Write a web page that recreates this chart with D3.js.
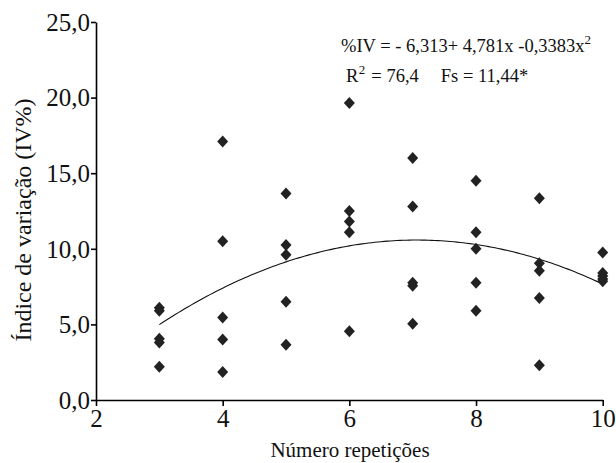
<!DOCTYPE html>
<html><head><meta charset="utf-8">
<script src="https://cdn.jsdelivr.net/npm/d3@7"></script>
<style>body{margin:0;background:#fff}svg{display:block}
svg text{font-family:"Liberation Serif","Times New Roman","DejaVu Serif",serif !important;}</style>
</head><body>
<svg id="chart" width="616" height="463"></svg>
<script>
// ---- data ----
const repetitions = [3,3,3,3,3, 4,4,4,4,4, 5,5,5,5,5, 6,6,6,6,6, 7,7,7,7,7, 8,8,8,8,8, 9,9,9,9,9, 10,10,10,10,10];
const ivValues = [6.1,5.9,4.05,3.8,2.2, 17.1,10.5,5.45,4.0,1.85, 13.65,10.25,9.6,6.5,3.65, 19.65,12.5,11.8,11.1,4.55, 16.0,12.8,7.75,7.55,5.05, 14.5,11.1,10.0,7.75,5.9, 13.35,9.05,8.55,6.75,2.3, 9.75,8.4,8.2,8.0,7.85];
const coefficients = [-6.313, 4.781, -0.3383];
const xTicks = [2,4,6,8,10];
const yTicks = [0,5,10,15,20,25];
const xTitle = "Número repetições";
const yTitle = "Índice de variação (IV%)";

const svg = d3.select("#chart");
const x = d3.scaleLinear().domain([2,10]).range([96,602.7]);
const y = d3.scaleLinear().domain([0,25]).range([400,22]);
const font = "Liberation Serif, Times New Roman, DejaVu Serif, serif";

// axes
const yAxis = d3.axisLeft(y).tickValues(yTicks).tickSize(5).tickSizeOuter(0)
  .tickFormat(d => d3.format(".1f")(d).replace(".", ","));
const gy = svg.append("g").attr("transform", "translate(96,0)").call(yAxis);
const xAxis = d3.axisBottom(x).tickValues(xTicks).tickSize(6).tickSizeOuter(0);
const gx = svg.append("g").attr("transform", "translate(0,400)").call(xAxis);
[gx, gy].forEach(g => {
  g.attr("font-family", font).attr("font-size", 25);
  g.select(".domain").attr("stroke", "#000").attr("stroke-width", 1.6);
  g.selectAll(".tick line").attr("stroke", "#000").attr("stroke-width", 1.6);
  g.selectAll(".tick text").attr("fill", "#111");
});
gy.selectAll(".tick text").attr("x", -6).attr("dy", "0.33em");
gx.selectAll(".tick text").attr("y", 8).attr("dy", "0.75em");

// titles
svg.append("text").attr("x", 350).attr("y", 457).attr("text-anchor", "middle")
  .attr("font-family", font).attr("font-size", 21).attr("fill", "#111").text(xTitle);
svg.append("text").attr("transform", "translate(31,220) rotate(-90)").attr("text-anchor", "middle")
  .attr("font-family", font).attr("font-size", 24).attr("fill", "#111").text(yTitle);

// fitted curve
const curveX = d3.range(3, 10.0001, 0.05);
const f = v => coefficients[0] + coefficients[1]*v + coefficients[2]*v*v;
svg.append("path").datum(curveX)
  .attr("d", d3.line().x(d => x(d)).y(d => y(f(d))))
  .attr("fill", "none").attr("stroke", "#111").attr("stroke-width", 1.1);

// points (diamonds)
const diamond = "M0,-6L5.5,0L0,6L-5.5,0Z";
svg.append("g").selectAll("path").data(repetitions.map((r,i) => [r, ivValues[i]]))
  .join("path").attr("d", diamond)
  .attr("transform", d => `translate(${x(d[0])},${y(d[1])})`)
  .attr("fill", "#222");

// equation
const eq = svg.append("text").attr("x", 341).attr("y", 52)
  .attr("font-family", font).attr("font-size", 18.5).attr("fill", "#111");
eq.append("tspan").text("%IV = - 6,313+ 4,781x -0,3383x");
eq.append("tspan").attr("dy", -8).attr("font-size", 13).text("2");
const r2 = svg.append("text").attr("x", 346).attr("y", 82)
  .attr("font-family", font).attr("font-size", 18.5).attr("fill", "#111");
r2.append("tspan").text("R");
r2.append("tspan").attr("dy", -8).attr("dx", 0.5).attr("font-size", 13).text("2");
r2.append("tspan").attr("dy", 8).attr("dx", 6).text("= 76,4");
r2.append("tspan").attr("dx", 22).text("Fs = 11,44*");
</script>
</body></html>
